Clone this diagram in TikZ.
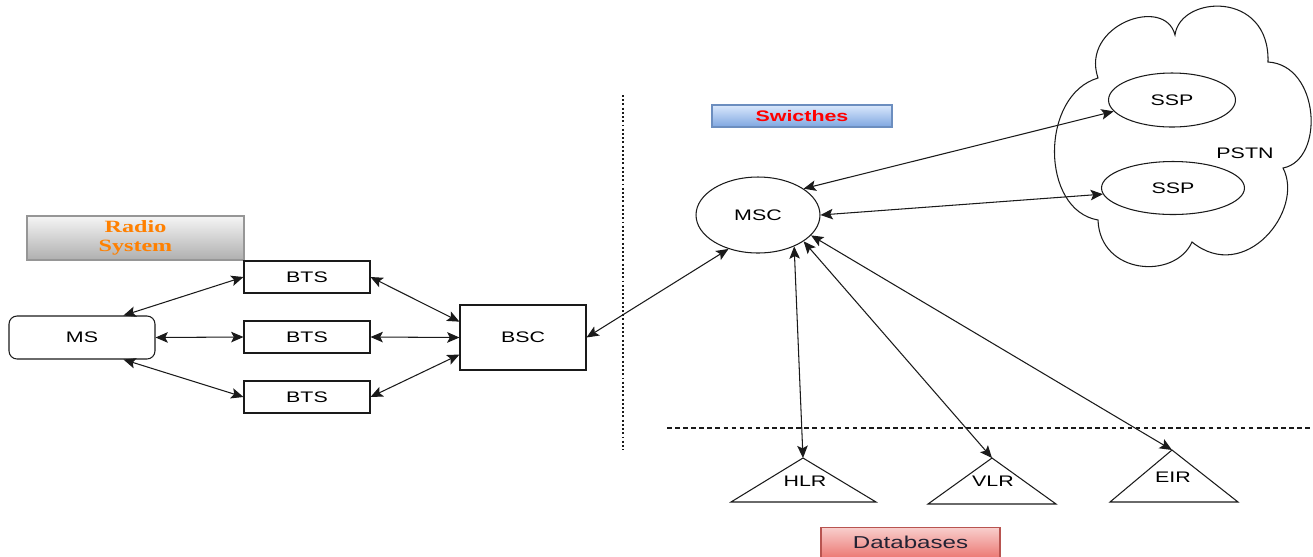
\documentclass[tikz,border=0pt]{standalone}
\usepackage{fontspec}
\setmainfont{Liberation Sans}[FakeStretch=1.4]
\newfontfamily\radiofont{Liberation Serif}[FakeStretch=1.4]
\usetikzlibrary{arrows.meta,shapes.geometric}
\definecolor{lineclr}{HTML}{1A1A1A}
\definecolor{orangetxt}{HTML}{FF8000}
\definecolor{graydraw}{HTML}{969696}
\definecolor{graytop}{HTML}{F5F5F5}
\definecolor{graybot}{HTML}{AFAFAF}
\definecolor{bluedraw}{HTML}{6C8EBF}
\definecolor{bluetop}{HTML}{DAE8FC}
\definecolor{bluebot}{HTML}{7EA6E0}
\definecolor{reddraw}{HTML}{B85450}
\definecolor{redtop}{HTML}{F8CECC}
\definecolor{redbot}{HTML}{EA6B66}
\definecolor{darktxt}{HTML}{222233}
\tikzset{
  box/.style={draw=lineclr, line width=0.6pt, minimum width=2.52cm, minimum height=0.64cm, inner sep=0pt, font=\fontsize{8.7}{10}\selectfont},
  oval/.style={draw=lineclr, line width=0.6pt, ellipse, inner sep=0pt, font=\fontsize{8.7}{10}\selectfont},
  link/.style={draw=lineclr, line width=0.6pt, {Stealth[length=7pt,width=6pt,inset=1.5pt]}-{Stealth[length=7pt,width=6pt,inset=1.5pt]}},
  plain/.style={font=\fontsize{8.7}{10}\selectfont, inner sep=0pt},
  sep/.style={draw=lineclr, line width=0.8pt},
}
\begin{document}
\begin{tikzpicture}[x=0.02cm,y=-0.02cm]
\useasboundingbox (0,0) rectangle (1313,556);

% title boxes
\node[draw=graydraw, line width=0.6pt, top color=graytop, bottom color=graybot, minimum width=4.34cm, minimum height=0.88cm, inner sep=0pt, align=center, text=orangetxt, font=\radiofont\bfseries\fontsize{9.8}{10.5}\selectfont] (radio) at (135.5,238) {Radio\\System};
\node[draw=bluedraw, line width=0.6pt, top color=bluetop, bottom color=bluebot, minimum width=3.6cm, minimum height=0.44cm, inner sep=0pt, text=red, font=\bfseries\fontsize{8.7}{10}\selectfont] (sw) at (802,116) {Swicthes};
\node[draw=reddraw, line width=0.6pt, top color=redtop, bottom color=redbot, minimum width=3.58cm, minimum height=0.7cm, inner sep=0pt, anchor=north] (db) at (910.5,527) {};
\node[plain, font=\fontsize{9.8}{11}\selectfont, text=darktxt] (dbt) at (910.5,542) {Databases};

% separators
\coordinate (vtop) at (623,95);
\coordinate (vbot) at (623,450);
\draw[sep, dash pattern=on 1.1pt off 1.3pt] (vtop) -- (vbot);
\coordinate (hl) at (667,428);
\coordinate (hr) at (1313,428);
\draw[sep, dash pattern=on 2.6pt off 2pt] (hl) -- (hr);

% radio side
\node[box, rounded corners=0.16cm, minimum width=2.92cm, minimum height=0.86cm] (ms) at (82,337.5) {MS};
\node[box] (bts1) at (307,277) {BTS};
\node[box] (bts2) at (307,337) {BTS};
\node[box] (bts3) at (307,397) {BTS};
\node[box, minimum height=1.3cm] (bsc) at (523,337.5) {BSC};

% core
\node[oval, minimum width=2.48cm, minimum height=1.52cm] (msc) at (758,215) {MSC};

% cloud
\draw[lineclr, line width=0.6pt]
  (1098,78) .. controls (1080,25) and (1165,-5) .. (1175,35)
  .. controls (1180,-5) and (1270,-10) .. (1268,62)
  .. controls (1320,65) and (1325,160) .. (1283,168)
  .. controls (1305,210) and (1245,285) .. (1192,242)
  .. controls (1175,280) and (1100,275) .. (1098,220)
  .. controls (1040,210) and (1040,95) .. (1098,78)
  -- cycle;
\node[oval, minimum width=2.54cm, minimum height=1.08cm] (ssp1) at (1172,100) {SSP};
\node[oval, minimum width=2.86cm, minimum height=1.06cm] (ssp2) at (1173,188) {SSP};
\node[plain] (pstn) at (1245,153) {PSTN};

% databases
\coordinate (hlrtop) at (803,458);
\coordinate (vlrtop) at (992,458);
\coordinate (eirtop) at (1172,450);
\draw[lineclr, line width=0.6pt] (hlrtop) -- (876,502) -- (731,502) -- cycle;
\draw[lineclr, line width=0.6pt] (vlrtop) -- (1056,504) -- (928,504) -- cycle;
\draw[lineclr, line width=0.6pt] (eirtop) -- (1238,502) -- (1110,502) -- cycle;
\node[plain] (hlr) at (805,481) {HLR};
\node[plain] (vlr) at (993,481) {VLR};
\node[plain] (eir) at (1173,477) {EIR};

% connectors
\draw[link] (ms.28) -- (bts1.west);
\draw[link] (ms.east) -- (bts2.west);
\draw[link] (ms.-28) -- (bts3.west);
\draw[link] (bts1.east) -- (bsc.166);
\draw[link] (bts2.east) -- (bsc.west);
\draw[link] (bts3.east) -- (bsc.195);
\draw[link] (bsc.east) -- (msc.229);
\draw[link] (msc.30) -- (ssp1.191);
\draw[link] (msc.east) -- (ssp2.185);
\draw[link] (msc.-41) -- (hlrtop);
\draw[link] (msc.-30) -- (vlrtop);
\draw[link] (msc.-21) -- (eirtop);
\end{tikzpicture}
\end{document}
